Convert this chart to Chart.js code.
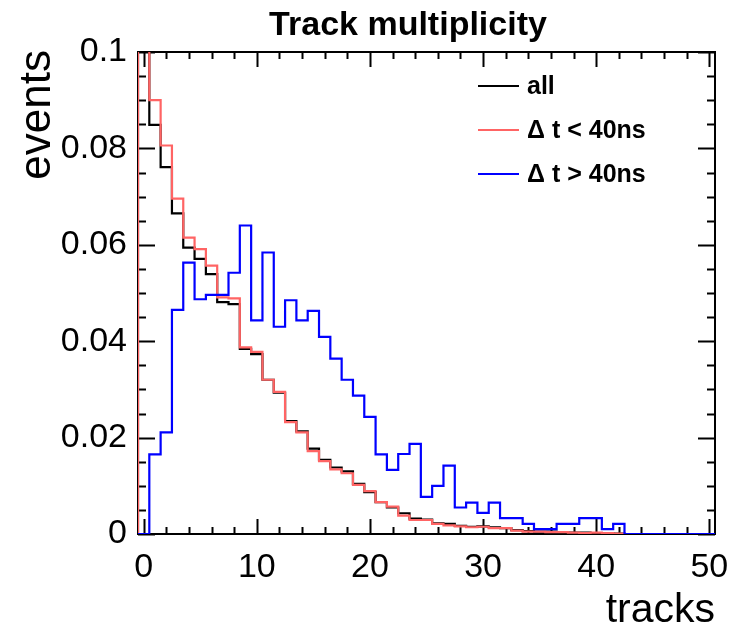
<!DOCTYPE html>
<html>
<head>
<meta charset="utf-8">
<script src="https://cdn.jsdelivr.net/npm/chart.js@4/dist/chart.umd.min.js"></script>
<style>
  html, body { margin: 0; padding: 0; background: #fff; }
  #wrap { width: 751px; height: 625px; }
</style>
</head>
<body>
<div id="wrap"><canvas id="chart" width="751" height="625"></canvas></div>
<script>
// bin centres 0..50, bin width 1
const bins = Array.from({ length: 51 }, (_, i) => i);

// "all" (black)
const allTracks = [
  0.110, 0.0849, 0.0761, 0.0665, 0.0594, 0.0571, 0.0539, 0.0481, 0.0477, 0.0384,
  0.0373, 0.0320, 0.0293, 0.0234, 0.0213, 0.0177, 0.0154, 0.0138, 0.0130, 0.0104,
  0.0087, 0.0066, 0.0055, 0.0043, 0.0032, 0.0030, 0.0022, 0.0021, 0.0017, 0.0015,
  0.0016, 0.0014, 0.0012, 0.0008, 0.0006, 0.0005, 0.0005, 0.0004, 0.0003, 0.0003,
  0.0002, 0.0002, 0.0001, 0, 0, 0, 0, 0, 0, 0, 0
];

// dt < 40ns (red)
const earlyTracks = [
  0.120, 0.0900, 0.0806, 0.0696, 0.0615, 0.0591, 0.0557, 0.0491, 0.0489, 0.0387,
  0.0378, 0.0320, 0.0295, 0.0232, 0.0211, 0.0172, 0.0151, 0.0134, 0.0126, 0.0102,
  0.0089, 0.0066, 0.0057, 0.0038, 0.0029, 0.0029, 0.0021, 0.0018, 0.0016, 0.0014,
  0.0015, 0.0012, 0.0012, 0.0007, 0.0005, 0.0005, 0.0004, 0.0004, 0.0003, 0.0002,
  0.0003, 0.0002, 0.0001, 0, 0, 0, 0, 0, 0, 0, 0
];

// dt > 40ns (blue)
const lateTracks = [
  0, 0.0165, 0.0211, 0.0465, 0.0563, 0.0487, 0.0496, 0.0496, 0.0542, 0.0640,
  0.0443, 0.0584, 0.0430, 0.0485, 0.0443, 0.0463, 0.0409, 0.0364, 0.0320, 0.0287,
  0.0243, 0.0165, 0.0133, 0.0166, 0.0187, 0.0077, 0.0100, 0.0142, 0.0055, 0.0065,
  0.0044, 0.0065, 0.0033, 0.0033, 0.0021, 0.0010, 0.0010, 0.0021, 0.0021, 0.0033,
  0.0033, 0.0010, 0.0021, 0, 0, 0, 0, 0, 0, 0, 0
];

const xTicks = [0, 10, 20, 30, 40, 50];
const yTicks = [0, 0.02, 0.04, 0.06, 0.08, 0.1];
const yTickLabels = ['0', '0.02', '0.04', '0.06', '0.08', '0.1'];

const seriesNames = ['all', '\u0394 t < 40ns', '\u0394 t > 40ns'];
const seriesColors = ['#000000', '#ff6464', '#0000ff'];

const FONT = "'Liberation Sans', Arial, Helvetica, sans-serif";

// histogram outline: one point on each bin's left edge, plus the last right edge
function histPoints(values) {
  const pts = [{ x: bins[0] - 0.5, y: 0 }];
  values.forEach((v, i) => pts.push({ x: bins[i] - 0.5, y: v }));
  pts.push({ x: bins[bins.length - 1] + 0.5, y: values[values.length - 1] });
  return pts;
}

// ROOT style: frame + inward ticks under the histograms, titles and legend on top
const rootFrame = {
  id: 'rootFrame',
  beforeDatasetsDraw(chart) {
    const { ctx, chartArea: a, scales: { x, y } } = chart;
    ctx.save();
    ctx.strokeStyle = '#000';
    ctx.lineWidth = 2;
    ctx.strokeRect(a.left, a.top, a.right - a.left, a.bottom - a.top);

    ctx.beginPath();
    for (let v = 0; v <= 50; v += 2) {
      const px = Math.round(x.getPixelForValue(v)) + 0.5;
      const len = v % 10 === 0 ? 15 : 7;
      ctx.moveTo(px, a.bottom); ctx.lineTo(px, a.bottom - len);
      ctx.moveTo(px, a.top); ctx.lineTo(px, a.top + len);
    }
    for (let k = 0; k <= 20; k++) {
      const v = k * 0.005;
      const py = Math.round(y.getPixelForValue(v)) + 0.5;
      const len = k % 4 === 0 ? 17 : 8;
      ctx.moveTo(a.left, py); ctx.lineTo(a.left + len, py);
      ctx.moveTo(a.right, py); ctx.lineTo(a.right - len, py);
    }
    ctx.stroke();
    ctx.restore();
  },
  afterDraw(chart) {
    const { ctx, chartArea: a } = chart;
    ctx.save();
    // title
    ctx.fillStyle = '#000';
    ctx.font = 'bold 34px ' + FONT;
    ctx.textAlign = 'center';
    ctx.textBaseline = 'alphabetic';
    ctx.fillText('Track multiplicity', 408, 35);

    // x axis title
    ctx.font = '41px ' + FONT;
    ctx.textAlign = 'right';
    ctx.fillText('tracks', a.right, 622);

    // y axis title
    ctx.save();
    ctx.translate(50, 50);
    ctx.rotate(-Math.PI / 2);
    ctx.font = '44px ' + FONT;
    ctx.textAlign = 'right';
    ctx.fillText('events', 0, 0);
    ctx.restore();

    // legend
    ctx.font = 'bold 25px ' + FONT;
    ctx.textAlign = 'left';
    ctx.textBaseline = 'middle';
    seriesNames.forEach((name, i) => {
      const ly = 86 + i * 44;
      ctx.strokeStyle = seriesColors[i];
      ctx.lineWidth = 2;
      ctx.beginPath();
      ctx.moveTo(478, ly); ctx.lineTo(519, ly);
      ctx.stroke();
      ctx.fillStyle = '#000';
      ctx.fillText(name, 527, ly + 1);
    });
    ctx.restore();
  }
};

const ctx = document.getElementById('chart').getContext('2d');

new Chart(ctx, {
  type: 'line',
  data: {
    datasets: [
      { label: seriesNames[0], data: histPoints(allTracks), borderColor: seriesColors[0], order: 3 },
      { label: seriesNames[1], data: histPoints(earlyTracks), borderColor: seriesColors[1], order: 2 },
      { label: seriesNames[2], data: histPoints(lateTracks), borderColor: seriesColors[2], order: 1 },
    ].map(d => Object.assign(d, {
      stepped: 'before',
      borderWidth: 2.2,
      pointRadius: 0,
      fill: false,
      tension: 0,
    })),
  },
  options: {
    responsive: false,
    animation: false,
    devicePixelRatio: 1,
    layout: { padding: { top: 52, right: 36, left: 0, bottom: 0 } },
    scales: {
      x: {
        type: 'linear',
        min: -0.5,
        max: 50.5,
        grid: { display: false, drawTicks: false },
        border: { display: false },
        afterBuildTicks: (s) => { s.ticks = xTicks.map(v => ({ value: v })); },
        afterFit: (s) => { s.height = 91; },
        ticks: {
          color: '#000',
          padding: 13,
          maxRotation: 0,
          font: { family: FONT, size: 34 },
          callback: (v) => String(v),
        },
      },
      y: {
        type: 'linear',
        min: 0,
        max: 0.1,
        grid: { display: false, drawTicks: false },
        border: { display: false },
        afterBuildTicks: (s) => { s.ticks = yTicks.map(v => ({ value: v })); },
        afterFit: (s) => { s.width = 138; },
        ticks: {
          color: '#000',
          padding: 11,
          font: { family: FONT, size: 34 },
          callback: (v) => yTickLabels[yTicks.indexOf(v)],
        },
      },
    },
    plugins: {
      legend: { display: false },
      title: { display: false },
      tooltip: { enabled: false },
    },
  },
  plugins: [rootFrame],
});
</script>
</body>
</html>
